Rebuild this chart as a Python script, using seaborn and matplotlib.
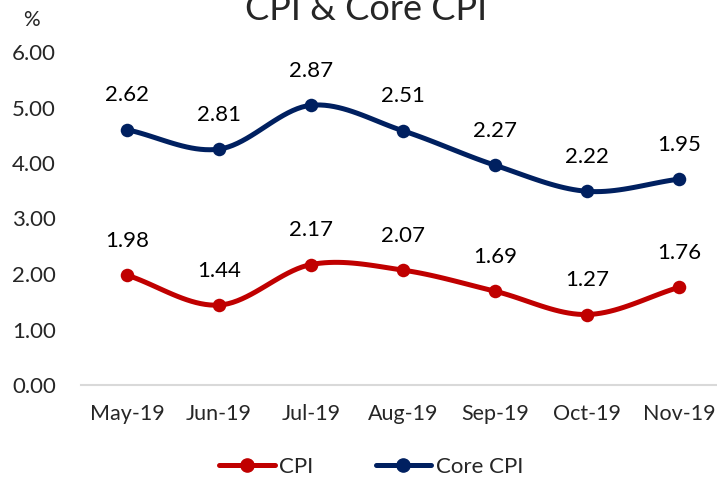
import numpy as np
import pandas as pd
import matplotlib
matplotlib.use("Agg")
import matplotlib.pyplot as plt
import seaborn as sns
from matplotlib.lines import Line2D

months = ["May-19", "Jun-19", "Jul-19", "Aug-19", "Sep-19", "Oct-19", "Nov-19"]
cpi = [1.98, 1.44, 2.17, 2.07, 1.69, 1.27, 1.76]
core_cpi = [2.62, 2.81, 2.87, 2.51, 2.27, 2.22, 1.95]
yticks = [0, 1, 2, 3, 4, 5, 6]

sns.set_theme(style="white")
plt.rcParams['font.family'] = ['Lato', 'DejaVu Sans']

RED = "#C00000"
NAVY = "#002060"

# stacked line chart: core plotted on top of CPI
core_stacked = [a + b for a, b in zip(cpi, core_cpi)]
df = pd.DataFrame({"x": np.arange(len(months)), "CPI": cpi, "Core": core_stacked})

fig = plt.figure(figsize=(7.17, 4.8), dpi=100)
# plot area extends slightly past the right edge (as in reference)
ax = fig.add_axes([81/717, 1 - 385/480, 644/717, 333/480])

def smooth(xs, ys, n=20):
    xs = np.asarray(xs, float); ys = np.asarray(ys, float)
    px = np.concatenate([[2*xs[0]-xs[1]], xs, [2*xs[-1]-xs[-2]]])
    py = np.concatenate([[2*ys[0]-ys[1]], ys, [2*ys[-1]-ys[-2]]])
    ox, oy = [], []
    for i in range(1, len(px)-2):
        t = np.linspace(0, 1, n, endpoint=False)
        for arr, out in ((px, ox), (py, oy)):
            p0, p1, p2, p3 = arr[i-1], arr[i], arr[i+1], arr[i+2]
            out.extend(0.5*((2*p1) + (-p0+p2)*t + (2*p0-5*p1+4*p2-p3)*t**2 + (-p0+3*p1-3*p2+p3)*t**3))
    ox.append(xs[-1]); oy.append(ys[-1])
    return np.array(ox), np.array(oy)

for col, color, labels in (("CPI", RED, cpi), ("Core", NAVY, core_cpi)):
    sx, sy = smooth(df["x"], df[col])
    ax.plot(sx, sy, color=color, lw=3.6, solid_capstyle="round", zorder=2, clip_on=False)
    sns.scatterplot(data=df, x="x", y=col, ax=ax, color=color, s=95,
                    edgecolor=color, linewidth=0, zorder=3, legend=False, clip_on=False)
    for xi, yi, lab in zip(df["x"], df[col], labels):
        ax.text(xi, yi + 0.62, f"{lab:.2f}", ha="center", va="center",
                fontsize=16, color="#000000")

ax.set_xlim(-0.5, 6.5)
ax.set_ylim(0, 6)
ax.set_yticks(yticks)
ax.set_yticklabels([f"{v:.2f}" for v in yticks], fontsize=16)
ax.set_xticks(range(len(months)))
ax.set_xticklabels(months, fontsize=15.5)
ax.tick_params(axis="x", length=0, pad=14)
ax.tick_params(axis="y", length=0, pad=18)
ax.set_xlabel(""); ax.set_ylabel("")
for s in ["top", "right", "left"]:
    ax.spines[s].set_visible(False)
ax.spines["bottom"].set_color("#D9D9D9")
ax.spines["bottom"].set_linewidth(1.5)

fig.text(31/717, 1 - 20/480, "%", fontsize=15, ha="center", va="center")
fig.text(366/717, 1 - 20/480, "CPI & Core CPI", fontsize=26, ha="center", va="baseline")

handles = [Line2D([0], [0], color=RED, lw=3.6, marker="o", markersize=9.5, label="CPI"),
           Line2D([0], [0], color=NAVY, lw=3.6, marker="o", markersize=9.5, label="Core CPI")]
fig.legend(handles=handles, loc="center", bbox_to_anchor=(371/717, 1 - 467/480), ncol=2,
           frameon=False, fontsize=16, handlelength=2.5, handletextpad=0.2,
           columnspacing=2.8, borderpad=0, borderaxespad=0)

fig.savefig("out.png", dpi=100)
